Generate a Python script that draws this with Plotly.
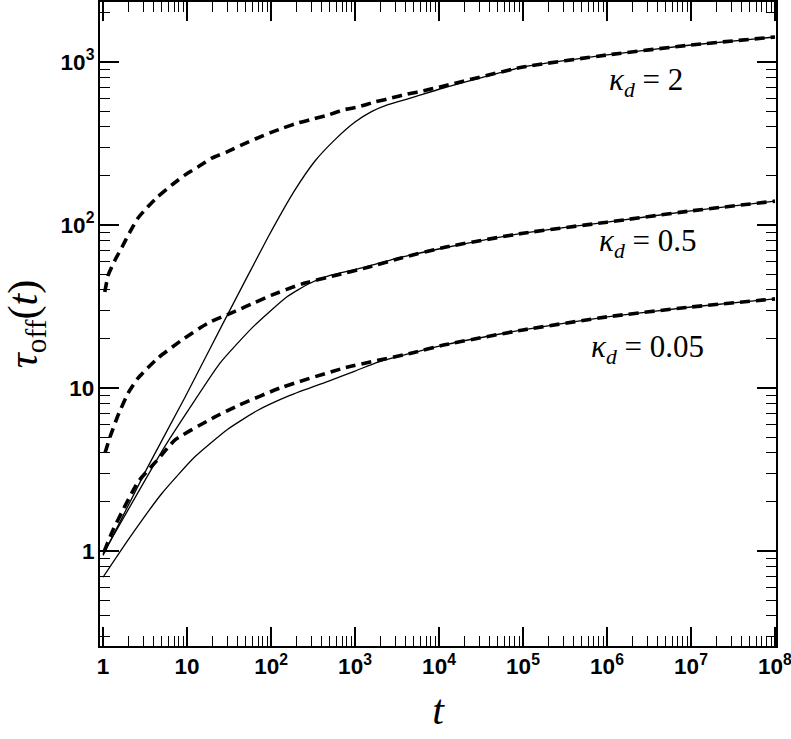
import plotly.graph_objects as go

# dashed asymptotic curves
t_dash_2 = [1.05, 1.15, 1.39, 1.68, 2.1, 2.6, 3.4, 4.5, 6.6, 9.5, 13.5, 20, 30, 45, 65, 97,
            140, 210, 316, 480, 720, 1090, 1730, 2750, 4200, 6500, 1e4, 1e5, 1e6, 1e7, 1e8]
tau_dash_2 = [38.8, 49, 61, 73, 91, 110, 129, 149, 176, 203, 227, 258, 281, 310, 337, 367,
              394, 423, 447, 473, 508, 530, 569, 602, 636, 664, 700, 931, 1104, 1271, 1423]

t_dash_05 = [1.057, 1.21, 1.51, 1.99, 2.61, 4.52, 8.71, 17.8, 37.2, 64.6, 100, 234, 578,
             1430, 3630, 11700, 1e5, 1e6, 1e7, 1e8]
tau_dash_05 = [4.0, 5.0, 6.8, 9.3, 11.5, 15.3, 19.7, 25, 29.5, 33.5, 37, 43.5, 49,
               55, 63, 73, 89, 104, 122, 140]

t_dash_005 = [1.03, 1.32, 2.61, 4.4, 7.2, 19.9, 40.5, 135, 760, 4780, 11700, 1e5, 1e6, 1e7, 1e8]
tau_dash_005 = [0.99, 1.35, 2.65, 3.6, 4.8, 6.5, 7.8, 10.1, 13.3, 16.4, 18.4, 22.7, 27.3, 31.4, 35.2]

# solid (full) curves
t_full_2 = [1, 3.4, 9.5, 28, 92, 193, 334, 578, 1000, 1590, 2470, 4780, 1.1e4, 1e5, 1e6, 1e7, 1e8]
tau_full_2 = [0.94, 3.27, 8.8, 26, 84, 164, 247, 334, 428, 498, 548, 605, 690, 931, 1104, 1271, 1423]

t_full_05 = [1, 5.18, 10.9, 24.7, 61.1, 155, 282, 504, 1210, 2990, 11700, 1e5, 1e6, 1e7, 1e8]
tau_full_05 = [0.96, 4.2, 7.6, 14.2, 23.7, 36.3, 43.6, 49, 54.5, 62, 72.5, 89, 104, 122, 140]

t_full_005 = [1, 1.99, 5.04, 12.4, 30.8, 68, 168, 504, 1000, 1880, 4780, 11700, 1e5, 1e6, 1e7, 1e8]
tau_full_005 = [0.69, 1.17, 2.26, 3.78, 5.6, 7.25, 9.0, 11.1, 12.7, 14.4, 16.4, 18.4, 22.7, 27.3, 31.4, 35.2]

labels = ["<i>κ</i><sub><i>d</i></sub> = 2", "<i>κ</i><sub><i>d</i></sub> = 0.5",
          "<i>κ</i><sub><i>d</i></sub> = 0.05"]

fig = go.Figure()

for tt, yy in [(t_full_2, tau_full_2), (t_full_05, tau_full_05), (t_full_005, tau_full_005)]:
    fig.add_trace(go.Scatter(x=tt, y=yy, mode="lines",
                             line=dict(color="black", width=1.3, shape="spline", smoothing=0.5)))

for tt, yy in [(t_dash_2, tau_dash_2), (t_dash_05, tau_dash_05), (t_dash_005, tau_dash_005)]:
    fig.add_trace(go.Scatter(x=tt, y=yy, mode="lines",
                             line=dict(color="black", width=3.6, dash="10px,6px",
                                       shape="spline", smoothing=0.5)))

# label positions (log10 coordinates)
label_pos = [(6.47, 2.877), (6.48, 1.89), (6.48, 1.24)]
for txt, (ax_, ay_) in zip(labels, label_pos):
    fig.add_annotation(x=ax_, y=ay_, text=txt, showarrow=False,
                       font=dict(family="Liberation Serif", size=31, color="black"))

axis_common = dict(
    type="log", showline=True, linecolor="black", linewidth=2, mirror="allticks",
    ticks="inside", ticklen=19, tickwidth=1.5, tickcolor="black",
    showgrid=False, zeroline=False, dtick=1, exponentformat="power",
    automargin=False, ticklabeloverflow="allow",
    tickfont=dict(family="Liberation Sans", size=18, color="black", weight="bold"),
    minor=dict(ticks="inside", ticklen=10, tickwidth=1.3, tickcolor="black",
               dtick="D1", showgrid=False),
)

fig.update_xaxes(**axis_common, range=[-0.036, 8.012],
                 title=dict(text="<i>t</i>", standoff=17,
                            font=dict(family="Liberation Serif", size=42, color="black")))
fig.update_yaxes(**axis_common, range=[-0.583, 3.368],
                 title=dict(text="<i>τ</i><sub>off</sub>(<i>t</i>)", standoff=10,
                            font=dict(family="Liberation Serif", size=42, color="black")))

fig.update_layout(width=791, height=739, showlegend=False,
                  plot_bgcolor="white", paper_bgcolor="white",
                  margin=dict(l=100, r=15, t=2, b=93))

# drop the page's default body margin so the figure sits at the window corner
fig.write_html("out.html", config={"displayModeBar": False},
               post_script="document.body.style.margin='0';")
